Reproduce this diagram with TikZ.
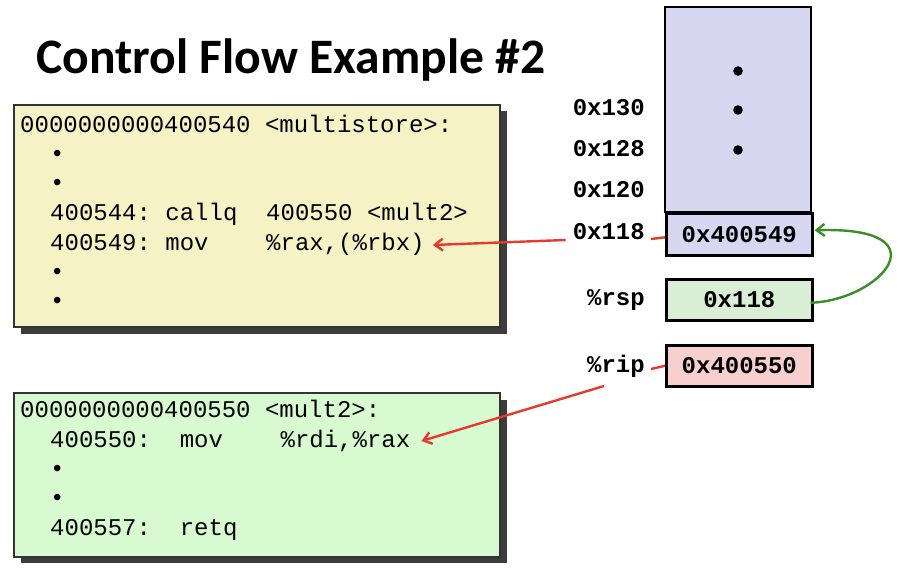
\documentclass[tikz,border=0pt]{standalone}
\usepackage{fontspec}
\setmonofont{Liberation Mono}
\setsansfont{Carlito}
\usetikzlibrary{arrows.meta,calc}
\definecolor{yellowbg}{HTML}{F5F3C5}
\definecolor{greenbg}{HTML}{D8FAD0}
\definecolor{lavbg}{HTML}{D7D7F2}
\definecolor{rspbg}{HTML}{D9EED5}
\definecolor{ripbg}{HTML}{F7CFCF}
\definecolor{shadowc}{HTML}{3C3C3C}
\definecolor{arrred}{HTML}{E53A2E}
\definecolor{arrgreen}{HTML}{3C8C2A}
\newcommand{\codefnt}{\ttfamily\fontsize{24}{24}\selectfont}
\newcommand{\lblfnt}{\ttfamily\bfseries\fontsize{24}{24}\selectfont}
\begin{document}
\begin{tikzpicture}[x=1pt,y=-1pt,
  codeline/.style={font=\codefnt, anchor=base west, inner sep=0pt},
  addrlbl/.style={font=\lblfnt, anchor=base east, inner sep=0pt},
  cellbox/.style={draw=black, line width=2.6pt, minimum width=146pt, inner sep=0pt, font=\lblfnt},
  codebox/.style={draw=black!80, line width=1.3pt},
  redline/.style={draw=arrred, line width=2.4pt},
  redarrow/.style={redline, -{Straight Barb[length=8pt,width=12pt]}},
  greenarrow/.style={draw=arrgreen, line width=2.4pt, -{Straight Barb[length=8pt,width=12pt]}}]
\useasboundingbox (0,0) rectangle (918,588);

% title
\node[font=\sffamily\bfseries\fontsize{49.6}{50}\selectfont, anchor=base west, inner sep=0pt] (title) at (36,74) {Control Flow Example \#2};

% yellow code box
\fill[shadowc] (21,111) rectangle (507,334);
\draw[codebox, fill=yellowbg] (14,105) rectangle (500,327);
\node[codeline] (y1) at (20,133) {0000000000400540 <multistore>:};
\node[codeline] (y2) at (50,162) {•};
\node[codeline] (y3) at (50,191) {•};
\node[codeline] (y4) at (50,221) {400544: callq~~400550 <mult2>};
\node[codeline] (y5) at (50,250) {400549: mov~~~~\%rax,(\%rbx)};
\node[codeline] (y6) at (50,279) {•};
\node[codeline] (y7) at (50,308) {•};

% green code box
\fill[shadowc] (21,400) rectangle (507,563);
\draw[codebox, fill=greenbg] (14,393) rectangle (500,557);
\node[codeline] (g1) at (20,417) {0000000000400550 <mult2>:};
\node[codeline] (g2) at (50,447) {400550:~~mov~~~~\%rdi,\%rax};
\node[codeline] (g3) at (50,476) {•};
\node[codeline] (g4) at (50,505) {•};
\node[codeline] (g5) at (50,535) {400557:~~retq};

% stack
\draw[line width=2.6pt, fill=lavbg] (665,7) rectangle (811,212);
\node[cellbox, fill=lavbg, minimum height=42pt, anchor=north west] (cell) at (665,212) {0x400549};
\fill (738,71) circle (4.8pt);
\fill (738,110) circle (4.8pt);
\fill (738,150) circle (4.8pt);

\node[addrlbl] (l130) at (645,116) {0x130};
\node[addrlbl] (l128) at (645,157) {0x128};
\node[addrlbl] (l120) at (645,198) {0x120};
\node[addrlbl] (l118) at (645,240) {0x118};

% registers
\node[cellbox, fill=rspbg, minimum height=41pt, anchor=north west] (rspbox) at (665,278) {0x118};
\node[cellbox, fill=ripbg, minimum height=41pt, anchor=north west] (ripbox) at (665,344) {0x400550};
\node[addrlbl] (lrsp) at (645,305) {\%rsp};
\node[addrlbl] (lrip) at (645,372) {\%rip};

% connectors
\draw[redline] ($(l118.base east)+(6,-1)$) -- ($(cell.west)+(0,3)$);
\draw[redline] ($(lrip.base east)+(6,-3)$) -- (ripbox.west);
\coordinate (a1s) at ($(l118.base west)+(-7,0)$);
\coordinate (a1e) at ($(y5.base east)+(8,-5)$);
\draw[redarrow] (a1s) -- (a1e);
\coordinate (a2s) at ($(lrip.base east)+(-41,14)$);
\coordinate (a2e) at ($(g2.base east)+(11,-6)$);
\draw[redarrow] (a2s) -- (a2e);
\draw[greenarrow] ($(rspbox.east)+(-3,3)$) .. controls (882,300) and (945,226) .. ($(cell.east)+(1,-4)$);
\end{tikzpicture}
\end{document}
